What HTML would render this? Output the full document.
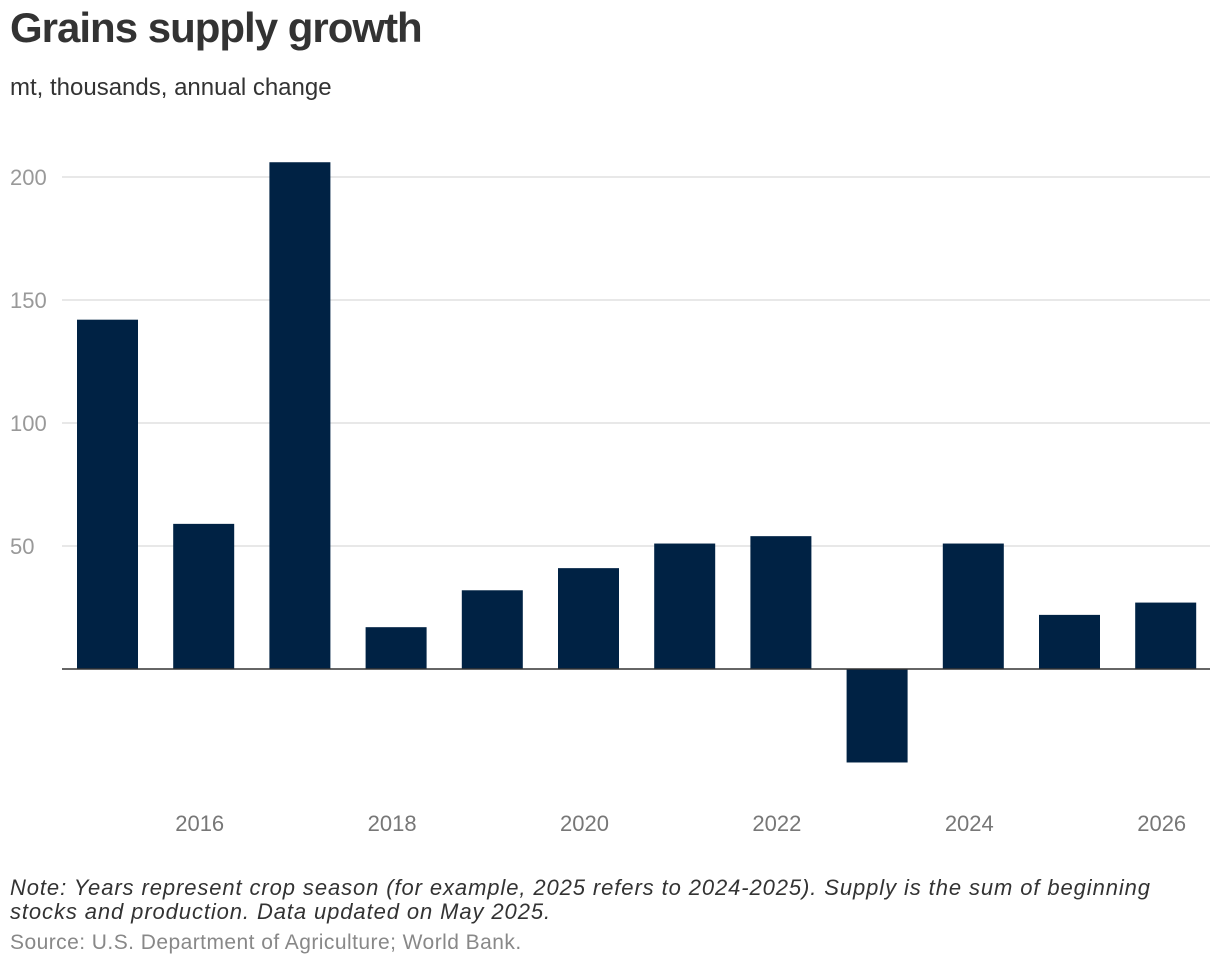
<!DOCTYPE html>
<html><head><meta charset="utf-8"><style>
body{margin:0;width:1220px;height:968px;background:#fff;font-family:"Liberation Sans",sans-serif;overflow:hidden;position:relative}
.t{position:absolute;left:10px;white-space:nowrap}
</style></head><body>
<div class="t" style="top:4px;font-size:42px;font-weight:bold;color:#333;letter-spacing:-1px">Grains supply growth</div>
<div class="t" style="top:74px;font-size:24px;color:#333">mt, thousands, annual change</div>
<svg id="chart" width="1220" height="860" style="position:absolute;left:0;top:0"></svg>
<div class="t" style="top:876px;font-size:22px;font-style:italic;color:#333;line-height:24px;letter-spacing:0.9px">Note: Years represent crop season (for example, 2025 refers to 2024-2025). Supply is the sum of beginning<br>stocks and production. Data updated on May 2025.</div>
<div class="t" style="top:931px;font-size:21px;color:#888;letter-spacing:0.45px">Source: U.S. Department of Agriculture; World Bank.</div>
<script>
const years=[2015,2016,2017,2018,2019,2020,2021,2022,2023,2024,2025,2026];
const values=[142,59,206,17,32,41,51,54,-38,51,22,27];
const yTicks=[50,100,150,200];
const xLabels=[2016,2018,2020,2022,2024,2026];
const svg=document.getElementById('chart');
const NS='http://www.w3.org/2000/svg';
const y=v=>669-v*2.46;
const x=yr=>107.5+(yr-2015)*96.2;
function mk(t,a){const e=document.createElementNS(NS,t);for(const k in a)e.setAttribute(k,a[k]);svg.appendChild(e);return e;}
yTicks.forEach(v=>{
 const l=mk('line',{x1:62,x2:1210,y1:y(v),y2:y(v),stroke:'#e0e0e0','stroke-width':1.5});
 
 
 const t=mk('text',{x:10,y:y(v)+8,'font-size':22,fill:'#999'});t.textContent=v;
 
 
});
years.forEach((yr,i)=>{
 const v=values[i];
 const r=mk('rect',{x:x(yr)-30.5,width:61,y:Math.min(y(v),y(0)),height:Math.abs(y(v)-y(0)),fill:'#002244'});
 
 
});
const z=mk('line',{x1:62,x2:1210,y1:y(0),y2:y(0),stroke:'#333','stroke-width':1.5});


xLabels.forEach(yr=>{
 const t=mk('text',{x:x(yr)-4,y:831,'font-size':22,fill:'#777','text-anchor':'middle'});t.textContent=yr;
 
 
});
</script>
</body></html>
